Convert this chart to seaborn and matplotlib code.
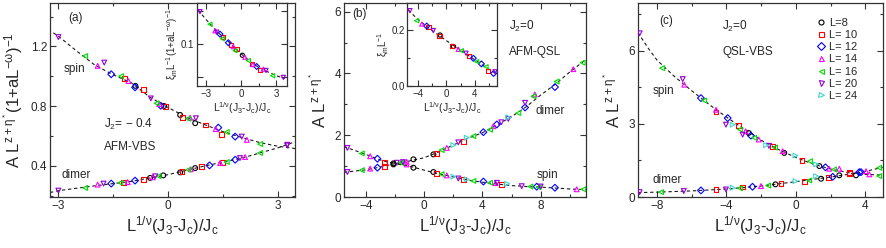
import matplotlib
matplotlib.use('Agg')
import matplotlib.pyplot as plt
from matplotlib.lines import Line2D
import pandas as pd
import seaborn as sns

sns.set_theme(style='ticks')
plt.rcParams['font.family'] = ['Liberation Sans', 'DejaVu Sans']
plt.rcParams['mathtext.default'] = 'regular'

# system sizes, legend labels and marker look
sizes = [8, 10, 12, 14, 16, 20, 24]
size_labels = ['L=8', 'L= 10', 'L= 12', 'L= 14', 'L= 16', 'L= 20', 'L= 24']
size_colors = ['#000000', '#ff0000', '#0000ff', '#ff00ff', '#00dd00', '#9400d3', '#40d8d0']
size_markers = ['o', 's', 'D', '^', '<', 'v', '>']

# ---- panel (a): J2 = -0.4, AFM-VBS
a_spin_L = [20, 16, 14, 20, 12, 16, 10, 14, 12, 8, 10, 20, 16, 14, 12, 8, 10,
            8, 10, 16, 14, 20, 8, 10, 14, 12, 10, 16, 12, 20, 14, 16, 20]
a_spin_x = [-2.99, -2.26, -1.92, -1.74, -1.55, -1.28, -1.19, -1.08, -0.90, -0.89, -0.67, -0.47, -0.31, -0.24, -0.20, -0.11, -0.06,
            0.33, 0.40, 0.55, 0.60, 0.76, 0.74, 1.01, 1.30, 1.37, 1.46, 1.60, 1.83, 2.01, 2.15, 2.51, 3.25]
a_spin_y = [1.262, 1.135, 1.069, 1.091, 1.013, 1.000, 0.982, 0.967, 0.925, 0.935, 0.911, 0.851, 0.818, 0.813, 0.802, 0.800, 0.795,
            0.740, 0.725, 0.715, 0.722, 0.718, 0.685, 0.673, 0.645, 0.655, 0.607, 0.625, 0.595, 0.595, 0.573, 0.545, 0.535]
a_dimer_L = [20, 16, 14, 20, 12, 16, 10, 14, 12, 10, 8, 14, 20, 16, 8,
             8, 10, 16, 14, 8, 10, 12, 14, 10, 16, 12, 20, 14, 16, 20]
a_dimer_x = [-2.99, -2.26, -1.92, -1.76, -1.55, -1.30, -1.22, -1.10, -0.90, -0.67, -0.49, -0.42, -0.35, -0.26, -0.13,
             0.33, 0.38, 0.55, 0.62, 0.74, 0.92, 1.13, 1.42, 1.48, 1.60, 1.83, 1.96, 2.10, 2.51, 3.25]
a_dimer_y = [0.233, 0.251, 0.273, 0.280, 0.280, 0.285, 0.289, 0.290, 0.300, 0.307, 0.318, 0.322, 0.329, 0.330, 0.335,
             0.355, 0.360, 0.373, 0.376, 0.384, 0.396, 0.402, 0.418, 0.422, 0.425, 0.440, 0.451, 0.458, 0.485, 0.540]
a_spin_fit_x = [-3.27, -3.0, -2.5, -2.0, -1.5, -1.0, -0.5, 0.0, 0.5, 1.0, 1.5, 2.0, 2.5, 3.0, 3.46]
a_spin_fit_y = [1.313, 1.27, 1.17, 1.075, 1.01, 0.955, 0.86, 0.79, 0.725, 0.675, 0.628, 0.59, 0.555, 0.53, 0.515]
a_dimer_fit_x = [-3.22, -3.0, -2.0, -1.0, 0.0, 1.0, 2.0, 3.0, 3.46]
a_dimer_fit_y = [0.22, 0.232, 0.265, 0.295, 0.34, 0.398, 0.45, 0.52, 0.56]
# inset (a): correlation length
a_xi_L = [20, 16, 14, 20, 12, 10, 16, 12, 10, 14, 16, 10, 8, 14, 16, 10, 12, 14, 10, 20, 14, 16, 20]
a_xi_x = [-3.52, -2.67, -2.24, -2.10, -1.81, -1.53, -1.60, -1.10, -0.90, -0.67, -0.53, -0.40, 0.10, 0.32, 0.61,
          0.90, 1.32, 1.00, 1.61, 2.12, 1.90, 2.69, 3.60]
a_xi_y = [0.149, 0.130, 0.120, 0.118, 0.115, 0.111, 0.108, 0.102, 0.099, 0.096, 0.090, 0.092, 0.083, 0.080, 0.075,
          0.070, 0.066, 0.069, 0.061, 0.060, 0.062, 0.052, 0.0495]
a_xi_fit_x = [-3.67, -3.0, -2.0, -1.0, 0.0, 1.0, 2.0, 3.0, 3.74]
a_xi_fit_y = [0.1515, 0.137, 0.118, 0.102, 0.085, 0.070, 0.060, 0.052, 0.048]

# ---- panel (b): J2 = 0, AFM-QSL
b_dimer_L = [20, 16, 14, 12, 10, 8, 20, 16, 14, 8, 8, 10, 16, 14, 24, 20, 10, 24, 16, 12, 16, 14,
             12, 20, 20, 24, 16, 12, 20, 16, 14, 12, 16, 14, 16]
b_dimer_x = [-5.26, -4.27, -3.70, -3.20, -2.74, -2.10, -1.87, -1.55, -1.19, -0.73, 0.64, 0.87, 1.21, 1.56, 2.01, 2.35,
             2.70, 2.93, 3.38, 4.07, 4.53, 4.75, 4.99, 5.30, 5.78, 5.78, 6.47, 6.93, 6.93, 7.50, 7.60, 8.98, 9.10, 10.24, 10.88]
b_dimer_y = [1.59, 1.41, 1.32, 1.24, 1.13, 1.055, 1.11, 1.10, 1.14, 1.22, 1.38, 1.42, 1.52, 1.59, 1.68, 1.77,
             1.81, 1.92, 1.97, 2.10, 2.18, 2.29, 2.35, 2.42, 2.53, 2.58, 2.72, 2.90, 3.05, 3.26, 3.32, 3.56, 3.74, 4.14, 4.35]
b_spin_L = [20, 16, 14, 12, 10, 8, 16, 20, 14, 8, 8, 10, 16, 14, 24, 20, 10, 24, 16, 12, 16, 14,
            20, 10, 24, 20, 16, 12, 16, 20, 12, 14, 16]
b_spin_x = [-5.26, -4.27, -3.70, -3.20, -2.74, -2.10, -1.55, -1.45, -1.19, -0.73, 0.64, 0.87, 1.21, 1.56, 2.01, 2.35,
            2.70, 2.93, 3.38, 4.07, 4.53, 4.90, 5.00, 5.33, 5.70, 6.70, 7.30, 7.73, 7.85, 8.00, 8.98, 10.47, 10.93]
b_spin_y = [0.81, 0.87, 0.92, 0.95, 1.00, 1.09, 1.12, 1.13, 1.055, 0.95, 0.81, 0.76, 0.74, 0.70, 0.66, 0.60,
            0.58, 0.57, 0.52, 0.50, 0.46, 0.45, 0.46, 0.41, 0.43, 0.35, 0.34, 0.335, 0.32, 0.34, 0.30, 0.25, 0.25]
b_dimer_fit_x = [-5.5, -5.0, -4.0, -3.0, -2.5, -2.0, -1.5, -1.0, 0.0, 1.0, 2.0, 3.0, 4.0, 5.0, 6.0, 7.0, 8.0, 9.0, 10.0, 11.1]
b_dimer_fit_y = [1.63, 1.55, 1.38, 1.2, 1.13, 1.08, 1.09, 1.17, 1.27, 1.46, 1.68, 1.9, 2.08, 2.33, 2.6, 2.92, 3.3, 3.65, 4.05, 4.45]
b_spin_fit_x = [-5.5, -4.0, -3.0, -2.0, -1.0, 0.0, 1.0, 2.0, 3.0, 4.0, 5.0, 6.0, 7.0, 8.0, 9.0, 10.0, 11.1]
b_spin_fit_y = [0.80, 0.88, 0.97, 1.08, 1.0, 0.87, 0.75, 0.65, 0.55, 0.48, 0.42, 0.37, 0.34, 0.32, 0.29, 0.26, 0.24]
# inset (b)
b_xi_L = [20, 16, 14, 12, 10, 20, 8, 10, 10, 8, 14, 16, 20, 10, 12, 16, 12, 16, 10, 20, 12]
b_xi_x = [-5.08, -4.14, -3.44, -2.74, -2.50, -1.82, -0.89, -0.95, 0.75, 1.00, 1.67, 2.10, 2.75, 3.21, 3.77,
          4.24, 4.90, 5.54, 5.86, 6.80, 6.60]
b_xi_y = [0.269, 0.233, 0.221, 0.214, 0.210, 0.198, 0.182, 0.178, 0.144, 0.141, 0.131, 0.126, 0.117, 0.107, 0.099,
          0.087, 0.079, 0.069, 0.055, 0.051, 0.045]
b_xi_fit_x = [-5.3, -4.0, -2.0, 0.0, 2.0, 4.0, 6.0, 6.9]
b_xi_fit_y = [0.271, 0.238, 0.198, 0.162, 0.128, 0.093, 0.058, 0.045]

# ---- panel (c): J2 = 0, QSL-VBS
c_spin_L = [20, 16, 20, 14, 12, 16, 14, 10, 12, 20, 24, 10, 16, 14, 20, 8, 12, 16, 14, 24, 20, 10, 16, 14,
            8, 24, 10, 16, 24, 8, 12, 14, 16, 14, 10, 8, 12, 14, 16]
c_spin_x = [-9.0, -7.71, -6.52, -6.43, -5.47, -5.28, -4.60, -4.60, -3.93, -4.03, -3.64, -3.29, -3.22, -2.90, -3.07,
            -2.72, -2.59, -2.40, -2.14, -1.72, -1.55, -1.34, -1.20, -0.76, -0.67, -0.03, 0.35, 0.81, 1.16, 1.35,
            1.70, 1.92, 2.20, 2.50, 3.08, 3.46, 3.75, 4.23, 4.80]
c_spin_y = [6.72, 5.29, 4.84, 4.61, 4.06, 3.96, 3.58, 3.49, 3.24, 2.97, 2.97, 2.93, 2.77, 2.70, 2.56,
            2.63, 2.52, 2.43, 2.36, 2.13, 2.10, 2.08, 2.03, 1.88, 1.81, 1.70, 1.50, 1.47, 1.34, 1.27,
            1.22, 1.16, 1.13, 1.16, 1.00, 0.89, 1.02, 0.93, 0.86]
c_dimer_L = [20, 16, 20, 12, 10, 20, 24, 16, 10, 12, 14, 16, 8, 10, 24, 10, 16, 24, 8, 10, 12, 8, 10, 12, 14, 16]
c_dimer_x = [-9.0, -7.77, -6.46, -5.47, -4.60, -4.03, -3.64, -3.22, -3.07, -2.50, -2.01, -1.60, -1.18, -0.86, -0.03,
             0.50, 0.77, 1.16, 1.45, 1.90, 2.12, 2.50, 3.08, 3.65, 4.04, 4.80]
c_dimer_y = [0.20, 0.20, 0.245, 0.27, 0.31, 0.31, 0.38, 0.36, 0.41, 0.42, 0.45, 0.47, 0.52, 0.56, 0.65,
             0.65, 0.68, 0.86, 0.75, 0.80, 0.83, 0.89, 0.96, 1.02, 1.06, 1.20]
c_spin_fit_x = [-9.1, -8.5, -8.0, -7.0, -6.0, -5.0, -4.0, -3.0, -2.0, -1.0, 0.0, 1.0, 2.0, 3.0, 4.0, 5.0]
c_spin_fit_y = [6.75, 6.1, 5.62, 4.95, 4.36, 3.8, 3.28, 2.8, 2.33, 1.95, 1.62, 1.35, 1.15, 1.0, 0.93, 0.9]
c_dimer_fit_x = [-9.1, -8.0, -6.0, -4.0, -2.0, 0.0, 2.0, 3.0, 4.0, 5.0]
c_dimer_fit_y = [0.18, 0.20, 0.25, 0.33, 0.45, 0.63, 0.82, 0.93, 1.05, 1.22]

xlabel = r'L$^{1/\nu}$(J$_3$-J$_c$)/J$_c$'
spine_col = '#333333'


def points(ax, Ls, xs, ys, s=12):
    df = pd.DataFrame({'L': Ls, 'x': xs, 'y': ys})
    for L, col, mk in zip(sizes, size_colors, size_markers):
        d = df[df['L'] == L]
        if d.empty:
            continue
        sns.scatterplot(data=d, x='x', y='y', marker=mk, s=s, color=col,
                        facecolor='none', edgecolor=col, linewidth=0.8,
                        ax=ax, legend=False, zorder=3)


def fit(ax, xs, ys):
    sns.lineplot(x=xs, y=ys, color='k', lw=0.8, dashes=(3, 2.5), ax=ax,
                 sort=False, estimator=None, zorder=2)


def style(ax, xt, xm, yt, ym, lsize=8.5):
    ax.set_xticks(xt)
    ax.set_xticks(xm, minor=True)
    ax.set_yticks(yt)
    ax.set_yticks(ym, minor=True)
    ax.tick_params(which='both', direction='in', top=True, right=True,
                   labelsize=lsize, color=spine_col, width=0.8, pad=2)
    ax.tick_params(which='major', length=4)
    ax.tick_params(which='minor', length=2.5)
    for sp in ax.spines.values():
        sp.set_color(spine_col)
        sp.set_linewidth(0.9)


fig = plt.figure(figsize=(8.86, 2.48), dpi=100)
ax_a = fig.add_axes([0.0564, 0.2056, 0.2765, 0.782])
ax_b = fig.add_axes([0.3883, 0.2056, 0.2731, 0.782])
ax_c = fig.add_axes([0.7198, 0.2056, 0.2765, 0.782])
in_a = fig.add_axes([0.222, 0.653, 0.1019, 0.3347])
in_b = fig.add_axes([0.4597, 0.653, 0.1009, 0.3347])

# (a)
fit(ax_a, a_spin_fit_x, a_spin_fit_y)
fit(ax_a, a_dimer_fit_x, a_dimer_fit_y)
points(ax_a, a_spin_L, a_spin_x, a_spin_y)
points(ax_a, a_dimer_L, a_dimer_x, a_dimer_y)
ax_a.set_xlim(-3.22, 3.46)
ax_a.set_ylim(0.19, 1.49)
style(ax_a, [-3, 0, 3], [-1.5, 1.5], [0.4, 0.8, 1.2], [0.2, 0.6, 1.0, 1.4])
ax_a.set_xlabel(xlabel, fontsize=12, labelpad=2)
ax_a.set_ylabel(r'A L$^{z+\eta^*}$(1+aL$^{-\omega}$)$^{-1}$', fontsize=12, labelpad=4)
ax_a.text(0.073, 0.923, '(a)', transform=ax_a.transAxes, fontsize=8.5, va='center')
ax_a.text(0.054, 0.66, 'spin', transform=ax_a.transAxes, fontsize=8.5, va='center')
ax_a.text(0.048, 0.113, 'dimer', transform=ax_a.transAxes, fontsize=8.5, va='center')
ax_a.text(0.22, 0.376, r'J$_2$= $-$ 0.4', transform=ax_a.transAxes, fontsize=8.5, va='center')
ax_a.text(0.22, 0.259, 'AFM-VBS', transform=ax_a.transAxes, fontsize=8.5, va='center')

fit(in_a, a_xi_fit_x, a_xi_fit_y)
points(in_a, a_xi_L, a_xi_x, a_xi_y, s=9)
in_a.set_xlim(-3.8, 3.91)
in_a.set_ylim(0.0364, 0.162)
style(in_a, [-3, 0, 3], [-1.5, 1.5], [0.05, 0.1, 0.15], [], lsize=7)
in_a.set_yticklabels(['', '0.1', ''])
in_a.set_xlabel(xlabel, fontsize=7.5, labelpad=1)
in_a.set_ylabel(r'$\xi_m$L$^{-1}$(1+aL$^{-\omega}$)$^{-1}$', fontsize=7, labelpad=1)

# (b)
fit(ax_b, b_dimer_fit_x, b_dimer_fit_y)
fit(ax_b, b_spin_fit_x, b_spin_fit_y)
points(ax_b, b_dimer_L, b_dimer_x, b_dimer_y)
points(ax_b, b_spin_L, b_spin_x, b_spin_y)
ax_b.set_xlim(-5.49, 11.11)
ax_b.set_ylim(0, 6.28)
style(ax_b, [-4, 0, 4, 8], [-2, 2, 6, 10], [0, 2, 4, 6], [1, 3, 5])
ax_b.set_xlabel(xlabel, fontsize=12, labelpad=2)
ax_b.set_ylabel(r'A L$^{z+\eta^*}$', fontsize=12, labelpad=4)
ax_b.text(0.036, 0.943, '(b)', transform=ax_b.transAxes, fontsize=8.5, va='center')
ax_b.text(0.68, 0.881, r'J$_2$=0', transform=ax_b.transAxes, fontsize=8.5, va='center')
ax_b.text(0.68, 0.749, 'AFM-QSL', transform=ax_b.transAxes, fontsize=8.5, va='center')
ax_b.text(0.792, 0.445, 'dimer', transform=ax_b.transAxes, fontsize=8.5, va='center')
ax_b.text(0.796, 0.113, 'spin', transform=ax_b.transAxes, fontsize=8.5, va='center')

fit(in_b, b_xi_fit_x, b_xi_fit_y)
points(in_b, b_xi_L, b_xi_x, b_xi_y, s=9)
in_b.set_xlim(-5.45, 7.03)
in_b.set_ylim(0, 0.296)
style(in_b, [-4, 0, 4], [-2, 2, 6], [0.0, 0.2], [0.1], lsize=7)
in_b.set_yticklabels(['0.0', '0.2'])
in_b.set_xlabel(xlabel, fontsize=7.5, labelpad=1)
in_b.set_ylabel(r'$\xi_m$L$^{-1}$', fontsize=7, labelpad=1)

# (c)
fit(ax_c, c_spin_fit_x, c_spin_fit_y)
fit(ax_c, c_dimer_fit_x, c_dimer_fit_y)
points(ax_c, c_spin_L, c_spin_x, c_spin_y)
points(ax_c, c_dimer_L, c_dimer_x, c_dimer_y)
ax_c.set_xlim(-9.11, 5.0)
ax_c.set_ylim(0, 7.96)
style(ax_c, [-8, -4, 0, 4], [-6, -2, 2], [0, 3, 6], [1.5, 4.5, 7.5])
ax_c.set_xlabel(xlabel, fontsize=12, labelpad=2)
ax_c.set_ylabel(r'A L$^{z+\eta^*}$', fontsize=12, labelpad=4)
ax_c.text(0.086, 0.909, '(c)', transform=ax_c.transAxes, fontsize=8.5, va='center')
ax_c.text(0.344, 0.878, r'J$_2$=0', transform=ax_c.transAxes, fontsize=8.5, va='center')
ax_c.text(0.344, 0.746, 'QSL-VBS', transform=ax_c.transAxes, fontsize=8.5, va='center')
ax_c.text(0.061, 0.546, 'spin', transform=ax_c.transAxes, fontsize=8.5, va='center')
ax_c.text(0.061, 0.088, 'dimer', transform=ax_c.transAxes, fontsize=8.5, va='center')

handles = [Line2D([], [], ls='none', marker=mk, mfc='none', mec=col, mew=0.8, ms=3.6)
           for col, mk in zip(size_colors, size_markers)]
ax_c.legend(handles, size_labels, loc='upper left', bbox_to_anchor=(0.728, 0.925),
            frameon=False, fontsize=8, handlelength=0.8, handletextpad=0.4,
            labelspacing=0.2, borderpad=0, borderaxespad=0)

fig.savefig('out.png', dpi=100)
